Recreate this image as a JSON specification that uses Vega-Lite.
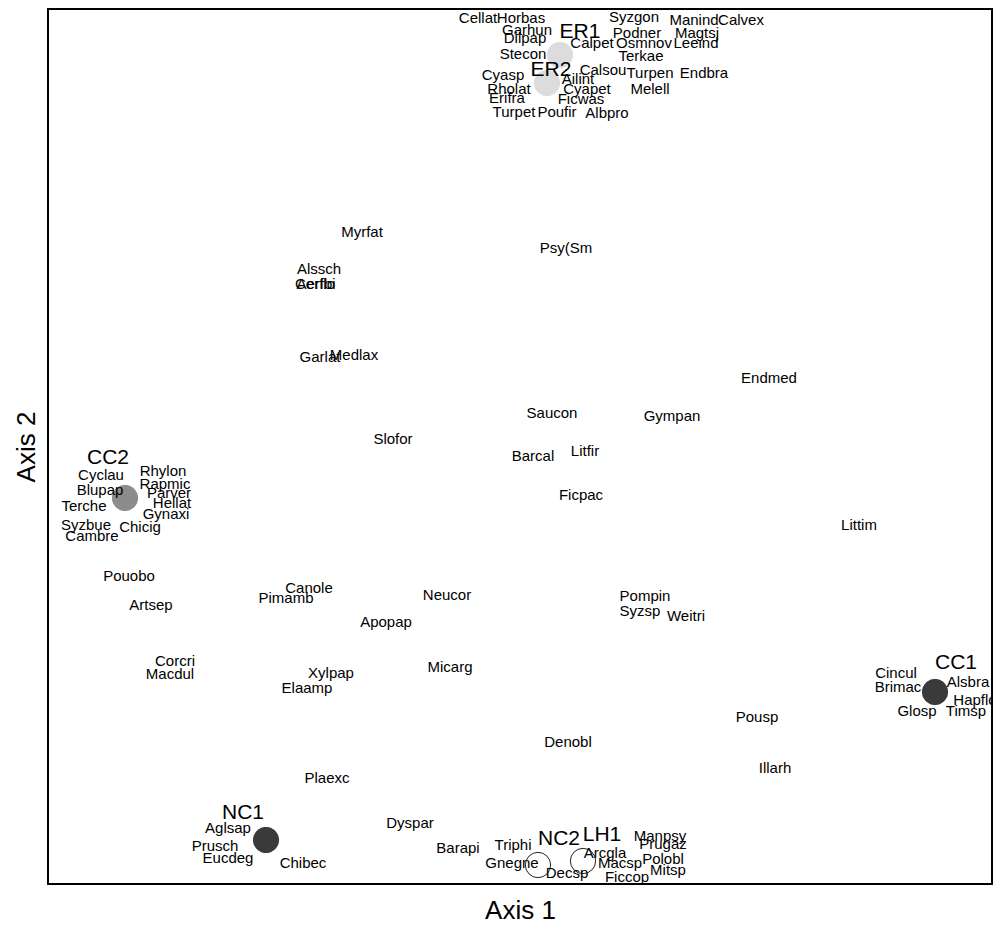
{
  "$schema": "https://vega.github.io/schema/vega-lite/v6.json",
  "width": 944,
  "height": 875,
  "padding": {"left": 48, "top": 9, "right": 2, "bottom": 45},
  "autosize": {"type": "none"},
  "background": "white",
  "config": {
    "view": {"stroke": "black", "strokeWidth": 2},
    "font": "Liberation Sans",
    "axis": {"titleFont": "Liberation Sans", "titleFontWeight": "normal", "titleColor": "black", "titleFontSize": 26, "labels": false, "ticks": false, "domain": false, "grid": false}
  },
  "datasets": {
    "points": [
      {"site": "ER1", "x": 512, "y": 829},
      {"site": "ER2", "x": 499, "y": 801},
      {"site": "CC2", "x": 77, "y": 386},
      {"site": "CC1", "x": 887, "y": 192},
      {"site": "NC1", "x": 218, "y": 44},
      {"site": "NC2", "x": 490, "y": 19},
      {"site": "LH1", "x": 535, "y": 23}
    ],
    "labels": [
      {"label": "Cellat", "x": 430, "y": 866, "kind": "species"},
      {"label": "Horbas", "x": 473, "y": 866, "kind": "species"},
      {"label": "Garhun", "x": 479, "y": 854, "kind": "species"},
      {"label": "Dilpap", "x": 477, "y": 846, "kind": "species"},
      {"label": "Syzgon", "x": 586, "y": 867, "kind": "species"},
      {"label": "Manind", "x": 646, "y": 864, "kind": "species"},
      {"label": "Calvex", "x": 693, "y": 864, "kind": "species"},
      {"label": "Podner", "x": 589, "y": 851, "kind": "species"},
      {"label": "Magtsj", "x": 649, "y": 851, "kind": "species"},
      {"label": "Calpet", "x": 544, "y": 841, "kind": "species"},
      {"label": "Osmnov", "x": 596, "y": 841, "kind": "species"},
      {"label": "Leeind", "x": 648, "y": 841, "kind": "species"},
      {"label": "Stecon", "x": 475, "y": 830, "kind": "species"},
      {"label": "Terkae", "x": 593, "y": 828, "kind": "species"},
      {"label": "Cyasp", "x": 455, "y": 809, "kind": "species"},
      {"label": "Calsou", "x": 555, "y": 814, "kind": "species"},
      {"label": "Turpen", "x": 602, "y": 811, "kind": "species"},
      {"label": "Endbra", "x": 656, "y": 811, "kind": "species"},
      {"label": "Ailint", "x": 530, "y": 805, "kind": "species"},
      {"label": "Rholat", "x": 461, "y": 795, "kind": "species"},
      {"label": "Cyapet", "x": 539, "y": 795, "kind": "species"},
      {"label": "Melell", "x": 602, "y": 795, "kind": "species"},
      {"label": "Erifra", "x": 459, "y": 786, "kind": "species"},
      {"label": "Ficwas", "x": 533, "y": 785, "kind": "species"},
      {"label": "Turpet", "x": 466, "y": 772, "kind": "species"},
      {"label": "Poufir", "x": 509, "y": 772, "kind": "species"},
      {"label": "Albpro", "x": 559, "y": 771, "kind": "species"},
      {"label": "Myrfat", "x": 314, "y": 652, "kind": "species"},
      {"label": "Psy(Sm", "x": 518, "y": 636, "kind": "species"},
      {"label": "Alssch", "x": 271, "y": 615, "kind": "species"},
      {"label": "Cerflo", "x": 267, "y": 600, "kind": "species"},
      {"label": "Aerfbi", "x": 268, "y": 600, "kind": "species"},
      {"label": "Garlat", "x": 272, "y": 527, "kind": "species"},
      {"label": "Medlax", "x": 306, "y": 529, "kind": "species"},
      {"label": "Endmed", "x": 721, "y": 506, "kind": "species"},
      {"label": "Saucon", "x": 504, "y": 471, "kind": "species"},
      {"label": "Gympan", "x": 624, "y": 468, "kind": "species"},
      {"label": "Slofor", "x": 345, "y": 445, "kind": "species"},
      {"label": "Barcal", "x": 485, "y": 428, "kind": "species"},
      {"label": "Litfir", "x": 537, "y": 433, "kind": "species"},
      {"label": "Ficpac", "x": 533, "y": 389, "kind": "species"},
      {"label": "Littim", "x": 811, "y": 359, "kind": "species"},
      {"label": "Cyclau", "x": 53, "y": 409, "kind": "species"},
      {"label": "Rhylon", "x": 115, "y": 413, "kind": "species"},
      {"label": "Blupap", "x": 52, "y": 394, "kind": "species"},
      {"label": "Rapmic", "x": 117, "y": 400, "kind": "species"},
      {"label": "Parver", "x": 121, "y": 391, "kind": "species"},
      {"label": "Hellat", "x": 124, "y": 381, "kind": "species"},
      {"label": "Terche", "x": 36, "y": 378, "kind": "species"},
      {"label": "Gynaxi", "x": 118, "y": 370, "kind": "species"},
      {"label": "Syzbue", "x": 38, "y": 359, "kind": "species"},
      {"label": "Chicig", "x": 92, "y": 357, "kind": "species"},
      {"label": "Cambre", "x": 44, "y": 348, "kind": "species"},
      {"label": "Pouobo", "x": 81, "y": 308, "kind": "species"},
      {"label": "Canole", "x": 261, "y": 296, "kind": "species"},
      {"label": "Pimamb", "x": 238, "y": 286, "kind": "species"},
      {"label": "Neucor", "x": 399, "y": 289, "kind": "species"},
      {"label": "Pompin", "x": 597, "y": 288, "kind": "species"},
      {"label": "Syzsp", "x": 592, "y": 273, "kind": "species"},
      {"label": "Weitri", "x": 638, "y": 268, "kind": "species"},
      {"label": "Artsep", "x": 103, "y": 279, "kind": "species"},
      {"label": "Apopap", "x": 338, "y": 262, "kind": "species"},
      {"label": "Corcri", "x": 127, "y": 223, "kind": "species"},
      {"label": "Macdul", "x": 122, "y": 210, "kind": "species"},
      {"label": "Micarg", "x": 402, "y": 217, "kind": "species"},
      {"label": "Xylpap", "x": 283, "y": 211, "kind": "species"},
      {"label": "Elaamp", "x": 259, "y": 196, "kind": "species"},
      {"label": "Cincul", "x": 848, "y": 211, "kind": "species"},
      {"label": "Alsbra", "x": 920, "y": 202, "kind": "species"},
      {"label": "Brimac", "x": 850, "y": 197, "kind": "species"},
      {"label": "Hapflo", "x": 927, "y": 184, "kind": "species"},
      {"label": "Glosp", "x": 869, "y": 173, "kind": "species"},
      {"label": "Timsp", "x": 918, "y": 173, "kind": "species"},
      {"label": "Pousp", "x": 709, "y": 167, "kind": "species"},
      {"label": "Denobl", "x": 520, "y": 142, "kind": "species"},
      {"label": "Illarh", "x": 727, "y": 116, "kind": "species"},
      {"label": "Plaexc", "x": 279, "y": 106, "kind": "species"},
      {"label": "Dyspar", "x": 362, "y": 61, "kind": "species"},
      {"label": "Aglsap", "x": 180, "y": 56, "kind": "species"},
      {"label": "Prusch", "x": 167, "y": 38, "kind": "species"},
      {"label": "Eucdeg", "x": 180, "y": 26, "kind": "species"},
      {"label": "Chibec", "x": 255, "y": 21, "kind": "species"},
      {"label": "Barapi", "x": 410, "y": 36, "kind": "species"},
      {"label": "Triphi", "x": 465, "y": 39, "kind": "species"},
      {"label": "Manpsy", "x": 612, "y": 48, "kind": "species"},
      {"label": "Prugaz", "x": 615, "y": 40, "kind": "species"},
      {"label": "Arcgla", "x": 557, "y": 31, "kind": "species"},
      {"label": "Polobl", "x": 615, "y": 25, "kind": "species"},
      {"label": "Gnegne", "x": 464, "y": 21, "kind": "species"},
      {"label": "Macsp", "x": 572, "y": 21, "kind": "species"},
      {"label": "Mitsp", "x": 620, "y": 14, "kind": "species"},
      {"label": "Decsp", "x": 519, "y": 11, "kind": "species"},
      {"label": "Ficcop", "x": 579, "y": 7, "kind": "species"},
      {"label": "ER1", "x": 532, "y": 852, "kind": "site"},
      {"label": "ER2", "x": 503, "y": 814, "kind": "site"},
      {"label": "CC2", "x": 60, "y": 426, "kind": "site"},
      {"label": "CC1", "x": 908, "y": 221, "kind": "site"},
      {"label": "NC1", "x": 195, "y": 71, "kind": "site"},
      {"label": "NC2", "x": 511, "y": 45, "kind": "site"},
      {"label": "LH1", "x": 554, "y": 49, "kind": "site"}
    ]
  },
  "encoding": {
    "x": {"field": "x", "type": "quantitative", "scale": {"domain": [0, 944], "nice": false, "zero": false}, "axis": {"title": "Axis 1", "titlePadding": 13}},
    "y": {"field": "y", "type": "quantitative", "scale": {"domain": [0, 875], "nice": false, "zero": false}, "axis": {"title": "Axis 2", "titlePadding": 9}}
  },
  "layer": [
    {
      "data": {"name": "points"},
      "mark": {"type": "point", "shape": "circle", "filled": false, "size": 640, "strokeWidth": 1, "opacity": 1},
      "encoding": {
        "fill": {"field": "site", "type": "nominal", "legend": null, "scale": {"domain": ["ER1", "ER2", "CC2", "CC1", "NC1", "NC2", "LH1"], "range": ["#dcdcdc", "#dcdcdc", "#8c8c8c", "#3a3a3a", "#3a3a3a", "transparent", "transparent"]}},
        "stroke": {"field": "site", "type": "nominal", "legend": null, "scale": {"domain": ["ER1", "ER2", "CC2", "CC1", "NC1", "NC2", "LH1"], "range": ["#dcdcdc", "#dcdcdc", "#8c8c8c", "#3a3a3a", "#3a3a3a", "#222222", "#222222"]}}
      }
    },
    {
      "data": {"name": "labels"},
      "mark": {"type": "text", "align": "center", "baseline": "middle", "color": "black", "clip": true},
      "encoding": {
        "text": {"field": "label", "type": "nominal"},
        "size": {"field": "kind", "type": "nominal", "legend": null, "scale": {"domain": ["species", "site"], "range": [15, 21]}}
      }
    }
  ]
}
